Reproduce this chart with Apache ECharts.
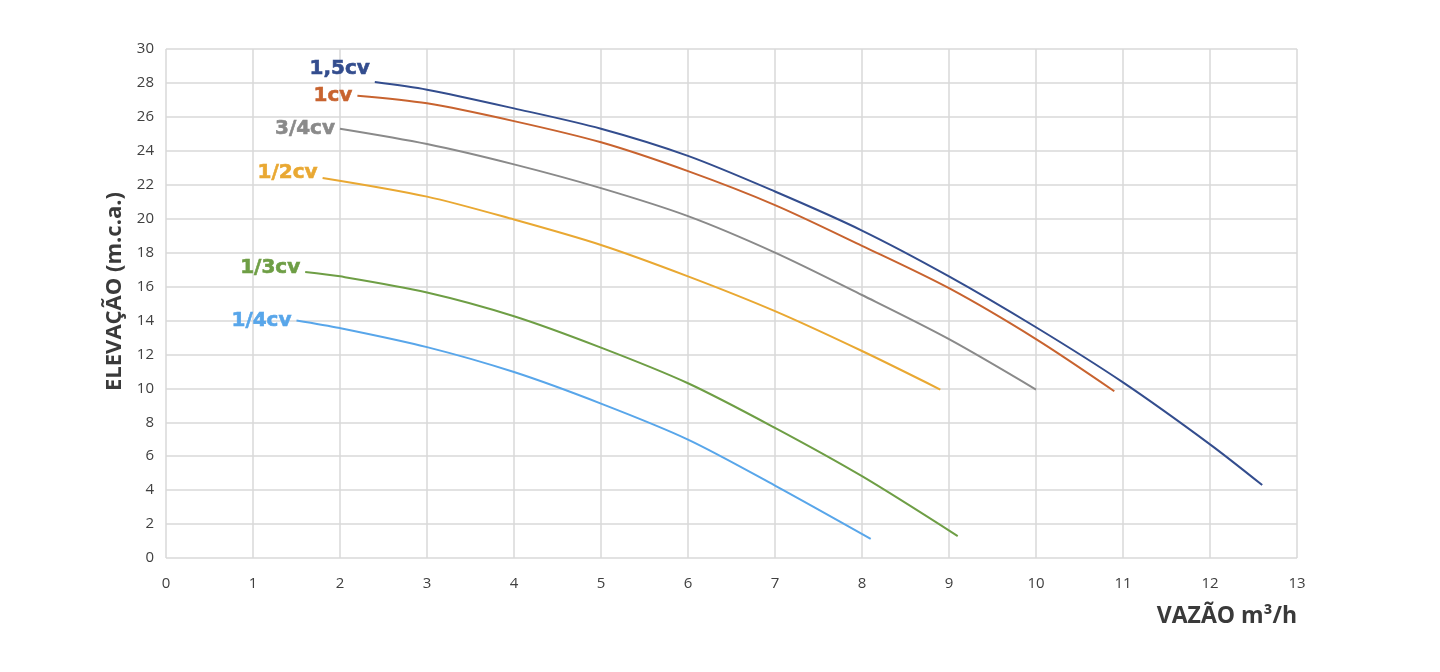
<!DOCTYPE html>
<html>
<head>
<meta charset="utf-8">
<script src="https://cdn.jsdelivr.net/npm/echarts@6/dist/echarts.min.js"></script>
<style>html,body{margin:0;padding:0;background:#fff}#c{width:1440px;height:672px}</style>
</head>
<body>
<div id="c"></div>
<script>
const xTicks = [0,1,2,3,4,5,6,7,8,9,10,11,12,13];
const yTicks = [0,2,4,6,8,10,12,14,16,18,20,22,24,26,28,30];
const seriesNames = ['1,5cv','1cv','3/4cv','1/2cv','1/3cv','1/4cv'];
const seriesColors = ['#334d8e','#c8632f','#8a8a8a','#e9a832','#6e9e45','#58a6ea'];

const cv150 = [[2.4,28.05],[3,27.6],[4,26.5],[5,25.3],[6,23.7],[7,21.6],[8,19.3],[9,16.6],[10,13.6],[11,10.35],[12,6.7],[12.6,4.3]];
const cv100 = [[2.2,27.25],[3,26.8],[4,25.75],[5,24.5],[6,22.8],[7,20.8],[8,18.4],[9,15.9],[10,12.9],[10.9,9.83]];
const cv075 = [[2.0,25.3],[3,24.4],[4,23.2],[5,21.8],[6,20.15],[7,18.0],[8,15.5],[9,12.9],[10,9.93]];
const cv050 = [[1.8,22.4],[3,21.3],[4,19.95],[5,18.45],[6,16.6],[7,14.55],[8,12.2],[8.9,9.93]];
const cv033 = [[1.6,16.86],[2,16.6],[3,15.65],[4,14.25],[5,12.4],[6,10.3],[7,7.67],[8,4.82],[9.1,1.29]];
const cv025 = [[1.5,14.0],[2,13.55],[3,12.43],[4,10.96],[5,9.1],[6,6.98],[7,4.27],[8.1,1.13]];
const allData = [cv150,cv100,cv075,cv050,cv033,cv025];
const labelOffsets = [[0,-13],[0,0],[0,0],[0,-5],[0,-4],[0,0]];

const chart = echarts.init(document.getElementById('c'));
const series = [];
allData.forEach((d,i)=>{
  series.push({
    type:'line', name:seriesNames[i], data:d, smooth:0.3, symbol:'none',
    lineStyle:{color:seriesColors[i], width:2}, z:3
  });
  series.push({
    type:'scatter', data:[d[0]], symbol:'circle', symbolSize:0,
    itemStyle:{color:seriesColors[i], opacity:1}, silent:true, z:4,
    label:{show:true, position:'left', distance:5, offset:labelOffsets[i],
      formatter:seriesNames[i], color:seriesColors[i], opacity:1,
      textBorderWidth:0.6, textBorderColor:seriesColors[i],
      fontFamily:'DejaVu Sans', fontWeight:'bold', fontSize:20}
  });
});

chart.setOption({
  animation:false,
  backgroundColor:'#ffffff',
  grid:{left:166, right:143, top:49, bottom:114},
  xAxis:{
    type:'value', min:0, max:13, interval:1,
    axisLine:{show:false}, axisTick:{show:false},
    splitLine:{show:true, lineStyle:{color:'#d9d9d9', width:1.5}},
    axisLabel:{margin:18, color:'#404040', fontSize:15, fontFamily:'Open Sans'},
    name:'VAZÃO m³/h', nameLocation:'end', nameGap:0,
    nameTextStyle:{align:'right', verticalAlign:'top', padding:[47,0,0,0],
      fontSize:23, fontWeight:'bold', color:'#3a3a3a', fontFamily:'Open Sans'}
  },
  yAxis:{
    type:'value', min:0, max:30, interval:2,
    axisLine:{show:false}, axisTick:{show:false},
    splitLine:{show:true, lineStyle:{color:'#d9d9d9', width:1.5}},
    axisLabel:{margin:12, color:'#404040', fontSize:15, fontFamily:'Open Sans'},
    name:'ELEVAÇÃO (m.c.a.)', nameLocation:'middle', nameGap:40, nameRotate:90,
    nameTextStyle:{fontSize:22, fontWeight:'bold', color:'#3a3a3a', fontFamily:'Open Sans', padding:[0,0,0,24]}
  },
  series:series
});
</script>
</body>
</html>
